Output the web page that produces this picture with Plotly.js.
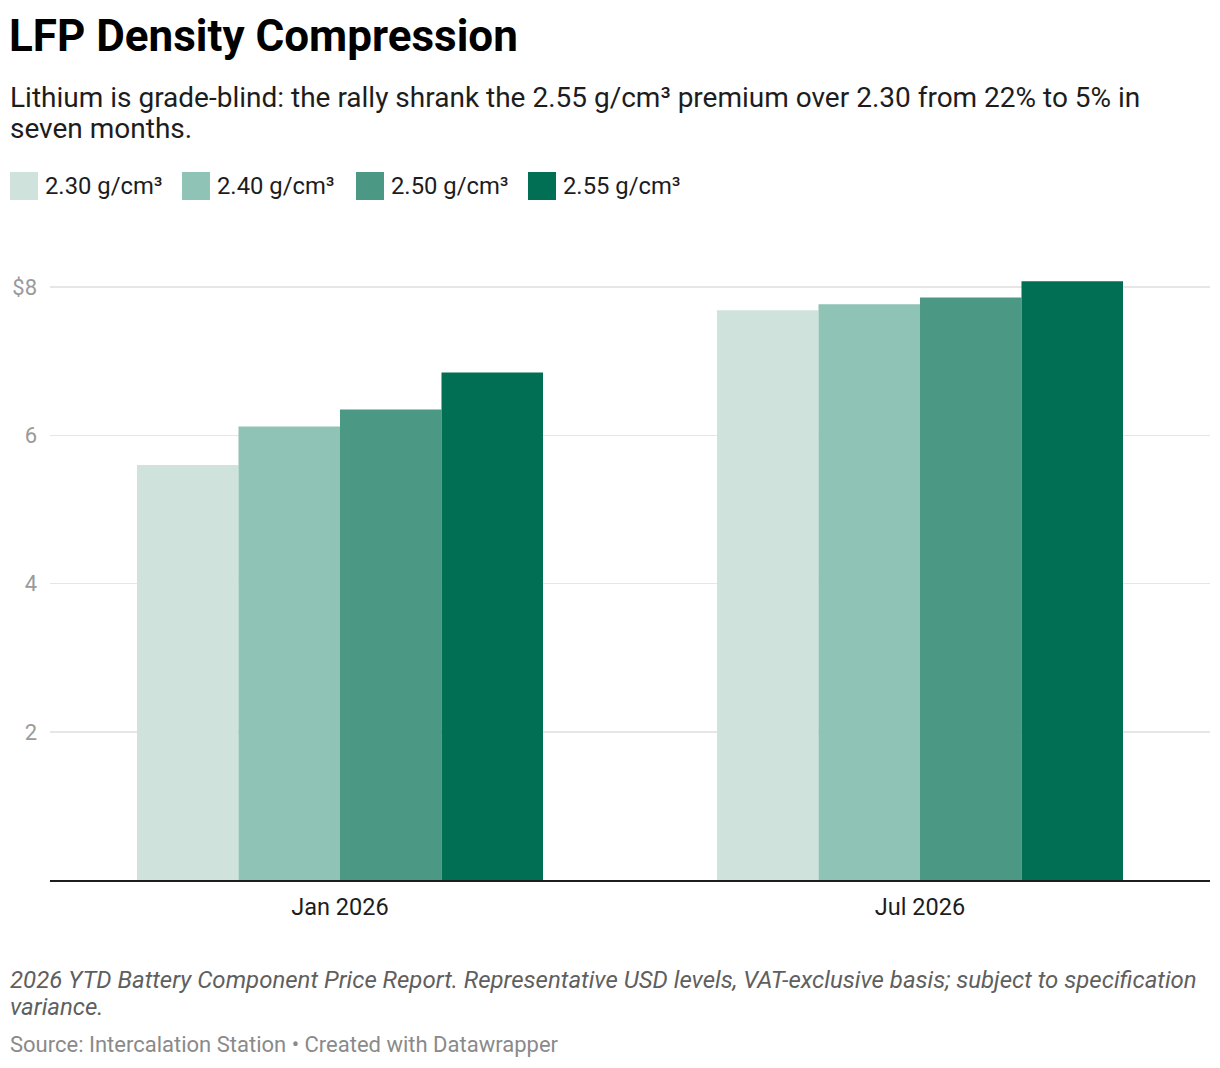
<!DOCTYPE html>
<html>
<head>
<meta charset="utf-8">
<script src="https://cdn.plot.ly/plotly-3.0.1.min.js"></script>
<style>
  html, body { margin: 0; padding: 0; background: #ffffff; }
  #chart { width: 1220px; height: 1068px; }
</style>
</head>
<body>
<div id="chart"></div>
<script>
// Chart data
const periods = ["Jan 2026", "Jul 2026"];
const grades = ["2.30 g/cm³", "2.40 g/cm³", "2.50 g/cm³", "2.55 g/cm³"];
const grade230 = [5.60, 7.69];
const grade240 = [6.12, 7.77];
const grade250 = [6.35, 7.86];
const grade255 = [6.85, 8.08];
const yTickVals = [2, 4, 6, 8];
const yTickText = ["2", "4", "6", "$8"];

const gradeColors = ["#cfe3dc", "#8fc3b5", "#4b9985", "#006f54"];
const seriesValues = [grade230, grade240, grade250, grade255];

const W = 1220, H = 1068;
const M = { l: 50, r: 10, t: 265, b: 188 };

// pixel -> paper coordinates (for texts and the legend)
const px = x => (x - M.l) / (W - M.l - M.r);
const py = y => (H - M.b - y) / (H - M.t - M.b);

const FONT = "Roboto, 'Noto Sans', sans-serif";

const traces = grades.map((g, i) => ({
  type: "bar",
  name: g,
  x: periods,
  y: seriesValues[i],
  marker: { color: gradeColors[i], line: { width: 0 } },
  hoverinfo: "skip"
}));

// Manual legend: coloured squares + labels
const legendX = [10, 182, 356, 528];
const legendShapes = grades.map((g, i) => ({
  type: "rect",
  xref: "paper", yref: "paper",
  x0: px(legendX[i]), x1: px(legendX[i] + 28),
  y0: py(200), y1: py(172),
  fillcolor: gradeColors[i],
  line: { width: 0 }
}));
const legendLabels = grades.map((g, i) => ({
  xref: "paper", yref: "paper",
  x: px(legendX[i] + 33), y: py(186),
  xanchor: "left", yanchor: "middle",
  text: g, showarrow: false,
  font: { family: FONT, size: 23.8, color: "#1d1d1d" }
}));

const textAnnotations = [
  {
    text: "<b>LFP Density Compression</b>",
    x: px(7), y: py(36),
    font: { family: FONT, size: 44, color: "#000000" }
  },
  {
    text: "Lithium is grade-blind: the rally shrank the 2.55 g/cm³ premium over 2.30 from 22% to 5% in",
    x: px(8), y: py(97),
    font: { family: FONT, size: 28, color: "#1d1d1d" }
  },
  {
    text: "seven months.",
    x: px(8), y: py(129),
    font: { family: FONT, size: 28, color: "#1d1d1d" }
  },
  {
    text: "<i>2026 YTD Battery Component Price Report. Representative USD levels, VAT-exclusive basis; subject to specification</i>",
    x: px(8), y: py(980),
    font: { family: FONT, size: 24, color: "#5f5f5f" }
  },
  {
    text: "<i>variance.</i>",
    x: px(8), y: py(1007),
    font: { family: FONT, size: 24, color: "#5f5f5f" }
  },
  {
    text: "Source: Intercalation Station • Created with Datawrapper",
    x: px(8), y: py(1044),
    font: { family: FONT, size: 22, color: "#8a8a8a" }
  }
].map(a => ({
  ...a,
  xref: "paper", yref: "paper",
  xanchor: "left", yanchor: "middle",
  align: "left", showarrow: false
}));

const layout = {
  width: W,
  height: H,
  margin: M,
  paper_bgcolor: "#ffffff",
  plot_bgcolor: "#ffffff",
  showlegend: false,
  barmode: "group",
  bargap: 0.3,
  bargroupgap: 0,
  font: { family: FONT, color: "#1d1d1d" },
  xaxis: {
    type: "category",
    range: [-0.5, 1.5],
    showgrid: false,
    showline: true,
    linecolor: "#1d1d1d",
    linewidth: 2,
    ticks: "",
    ticklabelstandoff: 5,
    tickfont: { family: FONT, size: 23.5, color: "#1d1d1d" },
    fixedrange: true
  },
  yaxis: {
    range: [0, 8.3],
    tickvals: yTickVals,
    ticktext: yTickText,
    showgrid: true,
    gridcolor: "#e6e6e6",
    gridwidth: 1.5,
    zeroline: false,
    showline: false,
    ticks: "",
    ticklabelstandoff: 12,
    tickfont: { family: FONT, size: 22, color: "#9a9a9a" },
    fixedrange: true
  },
  shapes: legendShapes,
  annotations: [...textAnnotations, ...legendLabels]
};

Plotly.newPlot("chart", traces, layout, { displayModeBar: false, staticPlot: true });
</script>
</body>
</html>
